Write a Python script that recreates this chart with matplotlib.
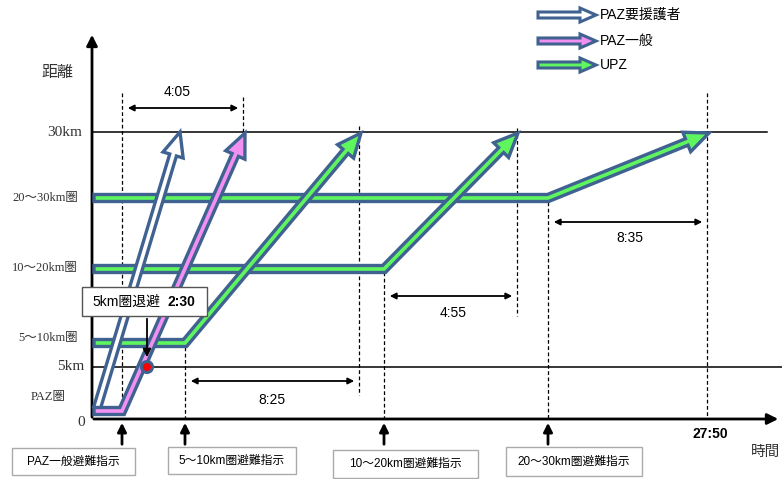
import numpy as np
import matplotlib.pyplot as plt
from matplotlib.patches import Polygon, Rectangle, Circle

SERIF = ['Liberation Serif', 'Noto Sans CJK JP']
SANS = ['Liberation Sans', 'Noto Sans CJK JP']

# schematic chart units (x: time, y: distance), 1 unit = 1 px
axis_x0, axis_y0 = 92, 419
lvl_30km, lvl_5km = 132, 367

# evacuation orders on the time axis
order_labels = ["PAZ一般避難指示", "5～10km圏避難指示", "10～20km圏避難指示", "20～30km圏避難指示"]
order_x = [122, 185, 384, 548]

# distance-band labels on the y axis
band_labels = ["30km", "20～30km圏", "10～20km圏", "5～10km圏", "5km", "PAZ圏", "0"]
band_y = [132, 198, 268, 338, 367, 397, 422]

# each group's waiting level and arrival (30km) time
paz_vul_start = (97, 408)
paz_vul_end = (180, 132)
paz_gen_level, paz_gen_arrive = 411, 245
upz_levels = [343, 269, 198]
upz_arrive = [361, 518, 709]

# measured durations
span_labels = ["4:05", "8:25", "4:55", "8:35"]
span_from = [122, 185, 384, 548]
span_to = [243, 359, 517, 707]
span_y = [108, 381, 296, 222]

evac5_label, evac5_time = "5km圏退避", "2:30"
total_time = "27:50"

OUTLINE = '#3F6291'
GREEN = '#5FF55F'
PINK = '#F290F2'


def unit(v):
    return v / np.hypot(*v)


def normal(v):
    d = unit(v)
    return np.array([-d[1], d[0]])


def arrow_poly(pts, h=3.5, H=10.5, L=24):
    pts = np.array(pts, float)
    tip, prev = pts[-1], pts[-2]
    d = unit(tip - prev)
    base = tip - d * L
    path = list(pts[:-1]) + [base]
    left, right = [], []
    for i, p in enumerate(path):
        if i == 0:
            n = normal(path[1] - path[0])
        elif i == len(path) - 1:
            n = normal(path[-1] - path[-2])
        else:
            n1 = normal(path[i] - path[i - 1])
            n2 = normal(path[i + 1] - path[i])
            n = (n1 + n2) / (1 + np.dot(n1, n2))
        left.append(p + n * h)
        right.append(p - n * h)
    nb = normal(d)
    return left + [base + nb * H, tip, base - nb * H] + right[::-1]


def draw_arrow(ax, pts, fill, lw=2.4, **kw):
    ax.add_patch(Polygon(arrow_poly(pts, **kw), closed=True, fc=fill, ec=OUTLINE,
                         lw=lw, joinstyle='miter', zorder=4))


fig = plt.figure(figsize=(7.82, 4.79), dpi=100)
ax = fig.add_axes([0, 0, 1, 1])
ax.set_xlim(0, 782)
ax.set_ylim(479, 0)
ax.axis('off')

# axes with arrowheads
ax.annotate('', xy=(axis_x0, 32), xytext=(axis_x0, axis_y0 + 1),
            arrowprops=dict(arrowstyle='-|>', lw=2, color='black', mutation_scale=16))
ax.annotate('', xy=(781, axis_y0), xytext=(axis_x0 - 1, axis_y0),
            arrowprops=dict(arrowstyle='-|>', lw=2, color='black', mutation_scale=16))
ax.plot([axis_x0, 767], [lvl_30km, lvl_30km], color='black', lw=1.1)
ax.plot([axis_x0, 782], [lvl_5km, lvl_5km], color='black', lw=1.1)

ax.text(57, 73, "距離", family=SERIF, fontsize=11.5, color='#333333', ha='center', va='center')
ax.text(751, 452, "時間", family=SERIF, fontsize=10.5, color='#333333', ha='left', va='center')
for lab, y in zip(band_labels, band_y):
    big = lab in ("30km", "5km", "0")
    xr = {"30km": 82, "5km": 84, "0": 85, "PAZ圏": 66}.get(lab, 78)
    ax.text(xr, y, lab, family=SERIF, fontsize=11 if big else 9, color='#333333',
            ha='right', va='center')

# dashed guide lines
guides = [(order_x[0], 93, axis_y0), (span_to[0], 97, lvl_30km), (span_to[1], 126, 395),
          (order_x[1], 347, axis_y0), (order_x[2], 272, axis_y0), (span_to[2], 128, 316),
          (order_x[3], 202, axis_y0), (span_to[3], 93, axis_y0)]
for x, y0, y1 in guides:
    ax.plot([x, x], [y0, y1], color='black', lw=0.9, ls=(0, (3, 2)), zorder=2)

# duration arrows
label_pos = [(177, 92), (272, 400), (453, 313), (630, 238)]
for lab, x0, x1, y, (tx, ty) in zip(span_labels, span_from, span_to, span_y, label_pos):
    ax.annotate('', xy=(x1 - 2, y), xytext=(x0 + 3, y),
                arrowprops=dict(arrowstyle='<|-|>', lw=1.3, color='black', mutation_scale=9))
    ax.text(tx, ty, lab, family=SANS, fontsize=10, ha='center', va='center')

# UPZ arrows (drawn far to near so diagonals overlap the bars)
for lvl, x_order, x_end in reversed(list(zip(upz_levels, order_x[1:], upz_arrive))):
    draw_arrow(ax, [(axis_x0 + 2, lvl), (x_order, lvl), (x_end, lvl_30km + 1)], GREEN)

# PAZ arrows
draw_arrow(ax, [paz_vul_start, paz_vul_end], 'white')
draw_arrow(ax, [(axis_x0 + 2, paz_gen_level), (order_x[0], paz_gen_level),
                (paz_gen_arrive, lvl_30km + 1)], PINK)

# 5km evacuation marker
ax.add_patch(Circle((147, lvl_5km), 5.5, fc='#FF0000', ec=OUTLINE, lw=2.2, zorder=6))
ax.add_patch(Rectangle((82, 287), 125, 29, fc='white', ec='#555555', lw=1, zorder=5))
ax.text(92, 301.5, evac5_label, family=SANS, fontsize=10, ha='left', va='center', zorder=6)
ax.text(168, 301.5, evac5_time, family=SANS, fontsize=10, weight='bold', ha='left',
        va='center', zorder=6)
ax.annotate('', xy=(147, 360), xytext=(147, 316),
            arrowprops=dict(arrowstyle='-|>', lw=1.3, color='black', mutation_scale=12),
            zorder=6)

ax.text(710, 434, total_time, family=SANS, fontsize=10, weight='bold', ha='center', va='center')

# evacuation order boxes
boxes = [(12, 448, 123, 27), (168, 447, 128, 27), (333, 450, 145, 28), (506, 447, 136, 29)]
for lab, x, (bx, by, bw, bh) in zip(order_labels, order_x, boxes):
    ax.annotate('', xy=(x, axis_y0 + 1), xytext=(x, 447),
                arrowprops=dict(arrowstyle='-|>', lw=2, color='black', mutation_scale=13))
    ax.add_patch(Rectangle((bx, by), bw, bh, fc='white', ec='#AAAAAA', lw=1))
    ax.text(bx + bw / 2, by + bh / 2, lab, family=SANS, fontsize=8.5, ha='center', va='center')

# legend
legend_labels = ["PAZ要援護者", "PAZ一般", "UPZ"]
legend_fill = ['white', PINK, GREEN]
legend_y = [15, 41, 65]
for lab, fc, y in zip(legend_labels, legend_fill, legend_y):
    draw_arrow(ax, [(538, y), (596, y)], fc, lw=2.2, h=3, H=7, L=16)
    ax.text(600, y, lab, family=SANS, fontsize=10, ha='left', va='center')

fig.savefig('out.png', dpi=100)
